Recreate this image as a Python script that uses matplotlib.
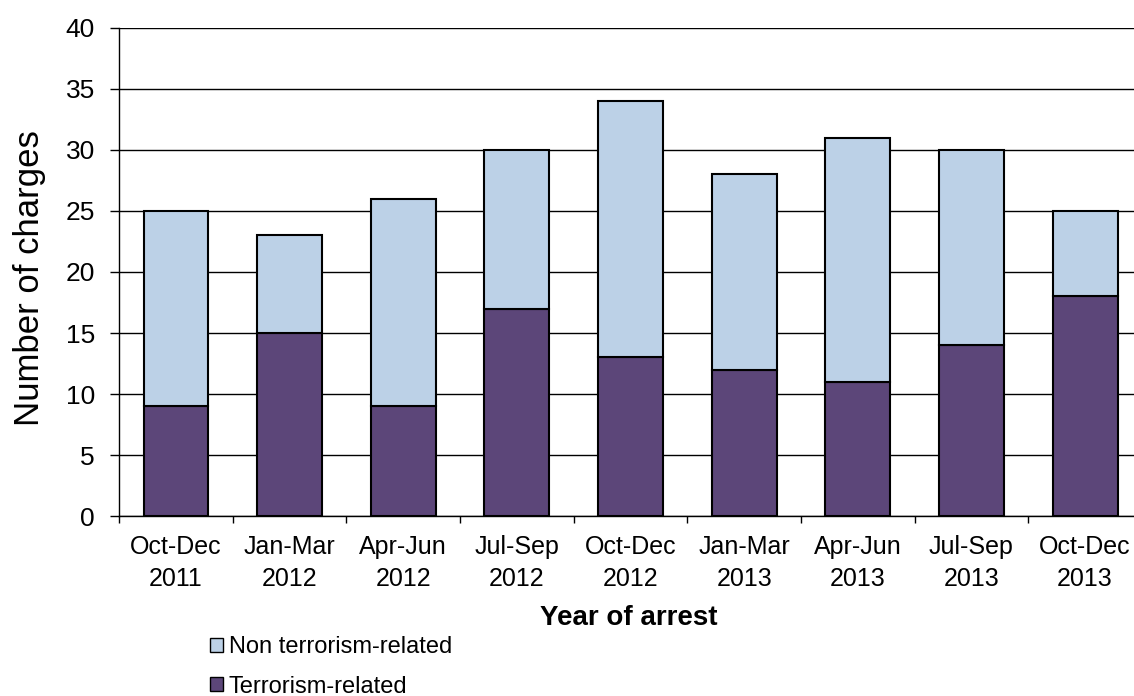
import matplotlib
matplotlib.use("Agg")
import matplotlib.pyplot as plt
from matplotlib.patches import Patch

plt.rcParams['font.family'] = ['Liberation Sans', 'DejaVu Sans']

categories = ["Oct-Dec\n2011", "Jan-Mar\n2012", "Apr-Jun\n2012", "Jul-Sep\n2012",
              "Oct-Dec\n2012", "Jan-Mar\n2013", "Apr-Jun\n2013", "Jul-Sep\n2013",
              "Oct-Dec\n2013"]
terrorism = [9, 15, 9, 17, 13, 12, 11, 14, 18]
non_terrorism = [16, 8, 17, 13, 21, 16, 20, 16, 7]

dark = "#5c4679"
light = "#bcd1e7"

fig = plt.figure(figsize=(11.34, 6.96), dpi=100)
ax = fig.add_axes([0.105, 0.2586, 0.902, 0.7012])

x = list(range(len(categories)))
ax.bar(x, terrorism, width=0.57, color=dark, edgecolor="black", linewidth=1.5, zorder=3)
ax.bar(x, non_terrorism, bottom=terrorism, width=0.57, color=light, edgecolor="black",
       linewidth=1.5, zorder=3)

ax.set_xlim(-0.5, len(categories) - 0.5)
ax.set_ylim(0, 40)
ax.set_yticks(range(0, 41, 5))
ax.tick_params(axis='y', labelsize=19, length=6.5, width=1, direction='out', pad=11)
ax.yaxis.grid(True, color="black", linewidth=1, zorder=0)
ax.set_axisbelow(True)

ax.set_xticks(x)
ax.set_xticklabels(categories, fontsize=18, linespacing=1.4)
ax.tick_params(axis='x', which='major', length=0, pad=14)
ax.set_xticks([i + 0.5 for i in range(-1, len(categories))], minor=True)
ax.tick_params(axis='x', which='minor', length=5, width=1, direction='out')

for s in ['top', 'right']:
    ax.spines[s].set_visible(False)
ax.spines['left'].set_linewidth(1)
ax.spines['bottom'].set_linewidth(1)

ax.set_ylabel("")
fig.text(30 / 1134, 1 - 278 / 696, "Number of charges", fontsize=25, rotation=90,
         ha='center', va='center')
fig.text(629 / 1134, 1 - 618 / 696, "Year of arrest", fontsize=20, fontweight='bold',
         ha='center', va='center')

handles = [Patch(facecolor=light, edgecolor="black", linewidth=1),
           Patch(facecolor=dark, edgecolor="black", linewidth=1)]
fig.legend(handles, ["Non terrorism-related", "Terrorism-related"],
           loc='upper left', bbox_to_anchor=(210 / 1134, 1 - 636 / 696), frameon=False,
           fontsize=17, handlelength=0.55, handleheight=0.55, handletextpad=0.25,
           labelspacing=0.75, borderaxespad=0, borderpad=0)

fig.savefig("out.png", dpi=100)
